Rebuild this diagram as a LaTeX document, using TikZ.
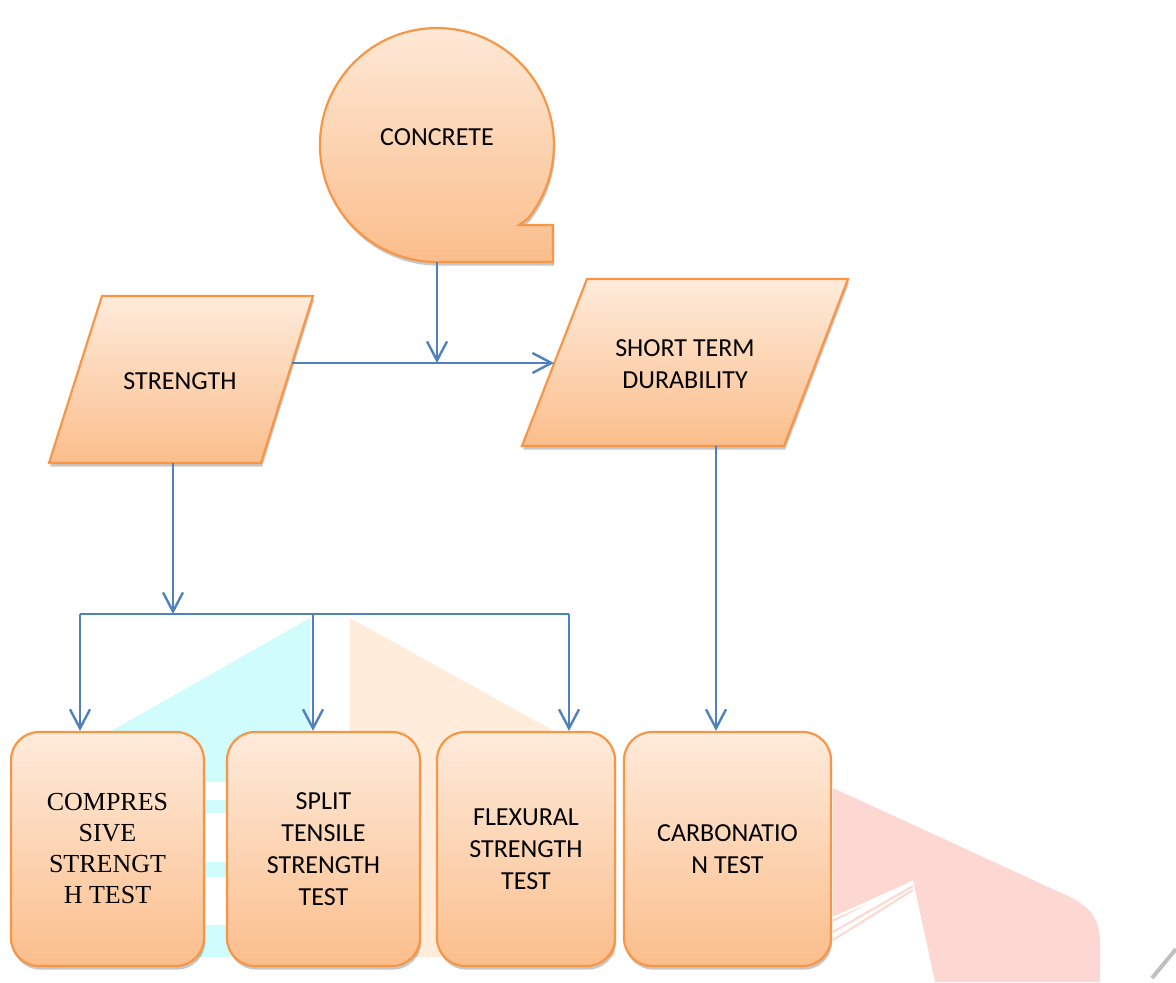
\documentclass[tikz,border=0pt]{standalone}
\usepackage{fontspec}
\setmainfont{Carlito}
\newfontfamily\timesf{Liberation Serif}
\usetikzlibrary{arrows.meta,shadows}
\definecolor{pkTop}{RGB}{254,235,219}
\definecolor{pkBot}{RGB}{251,190,140}
\definecolor{pkLine}{RGB}{247,150,70}
\definecolor{connBlue}{RGB}{79,129,189}
\definecolor{wmCyan}{RGB}{208,252,252}
\definecolor{wmOrange}{RGB}{255,236,218}
\definecolor{wmRed}{RGB}{253,215,209}
\tikzset{
  shapefill/.style={draw=pkLine, line width=1.1pt, top color=pkTop, bottom color=pkBot,
    drop shadow={shadow xshift=0.6pt, shadow yshift=-1.8pt, opacity=0.22, fill=black}},
  testbox/.style={shapefill, rectangle, rounded corners=14pt, inner sep=0pt,
    minimum height=117pt, align=center, font=\fontsize{13}{16}\selectfont},
  lbl/.style={align=center, inner sep=0pt, font=\fontsize{13}{16}\selectfont},
  connline/.style={draw=connBlue, line width=1.2pt},
  connarrow/.style={connline, -{Straight Barb[length=9.5pt, width=10pt, line width=1.2pt]}}
}
\begin{document}
\begin{tikzpicture}[x=0.5pt,y=0.5pt]
\useasboundingbox (0,0) rectangle (1176,982);
% watermark
\fill[wmCyan] (310,364) -- (113,252) -- (20,199) -- (20,25) -- (310,25) -- cycle;
\fill[white] (20,169) rectangle (310,120);
\fill[white] (20,105) rectangle (310,57);
\fill[white] (20,200) rectangle (310,182);
\fill[wmOrange] (350,364) -- (552,252) -- (615,217) -- (615,25) -- (350,25) -- cycle;
\fill[wmRed] (833,194) -- (1070,85) .. controls (1094,73) and (1100,60) .. (1100,37)
  -- (1100,0) -- (935,0) -- (913,102) -- (833,60) -- cycle;
\draw[white, line width=1.2pt] (913,100) -- (833,64);
\draw[wmRed, line width=1pt] (913,96) -- (833,50);
\draw[wmRed, line width=1pt] (913,92) -- (833,42);
\draw[black!25, line width=2pt] (1152,4) -- (1176,33);
% CONCRETE
\draw[shapefill] (528,763.5) arc[start angle=-38.9, end angle=270, radius=117]
  -- (553,720) -- (553,757) -- (519,757) -- cycle;
\node[lbl] (concrete) at (437,845) {CONCRETE};
% STRENGTH
\draw[shapefill] (102,686) -- (313,686) -- (261,519) -- (49,519) -- cycle;
\node[lbl] (strength) at (180,601) {STRENGTH};
% SHORT TERM DURABILITY
\draw[shapefill] (587,703) -- (848,703) -- (784,536) -- (522,536) -- cycle;
\node[lbl] (durab) at (685,618) {SHORT TERM\\DURABILITY};
% test boxes
\node[testbox, minimum width=96.5pt, font=\timesf\fontsize{13}{15.5}\selectfont] (b1) at (107.5,133) {COMPRES\\SIVE\\STRENGT\\H TEST};
\node[testbox, minimum width=96.5pt] (b2) at (323.5,133) {SPLIT\\TENSILE\\STRENGTH\\TEST};
\node[testbox, minimum width=89pt] (b3) at (526,133) {FLEXURAL\\STRENGTH\\TEST};
\node[testbox, minimum width=103.5pt] (b4) at (727.5,133) {CARBONATIO\\N TEST};
% connector points
\coordinate (cB) at (437,720);
\coordinate (jn) at (437,619);
\coordinate (strR) at (292,619);
\coordinate (durL) at (554,619);
\coordinate (strB) at (173,519);
\coordinate (busS) at (173,368);
\coordinate (bus1) at (80,368);
\coordinate (bus2) at (313,368);
\coordinate (bus3) at (569,368);
\coordinate (durB) at (716,536);
% connectors
\draw[connline] (strR) -- (jn);
\draw[connarrow] (jn) -- (durL);
\draw[connarrow] (cB) -- (jn);
\draw[connarrow] (strB) -- (busS);
\draw[connline] (bus1) -- (bus3);
\draw[connarrow] (bus1) -- (bus1 |- b1.north);
\draw[connarrow] (bus2) -- (bus2 |- b2.north);
\draw[connarrow] (bus3) -- (bus3 |- b3.north);
\draw[connarrow] (durB) -- (durB |- b4.north);
\end{tikzpicture}
\end{document}
